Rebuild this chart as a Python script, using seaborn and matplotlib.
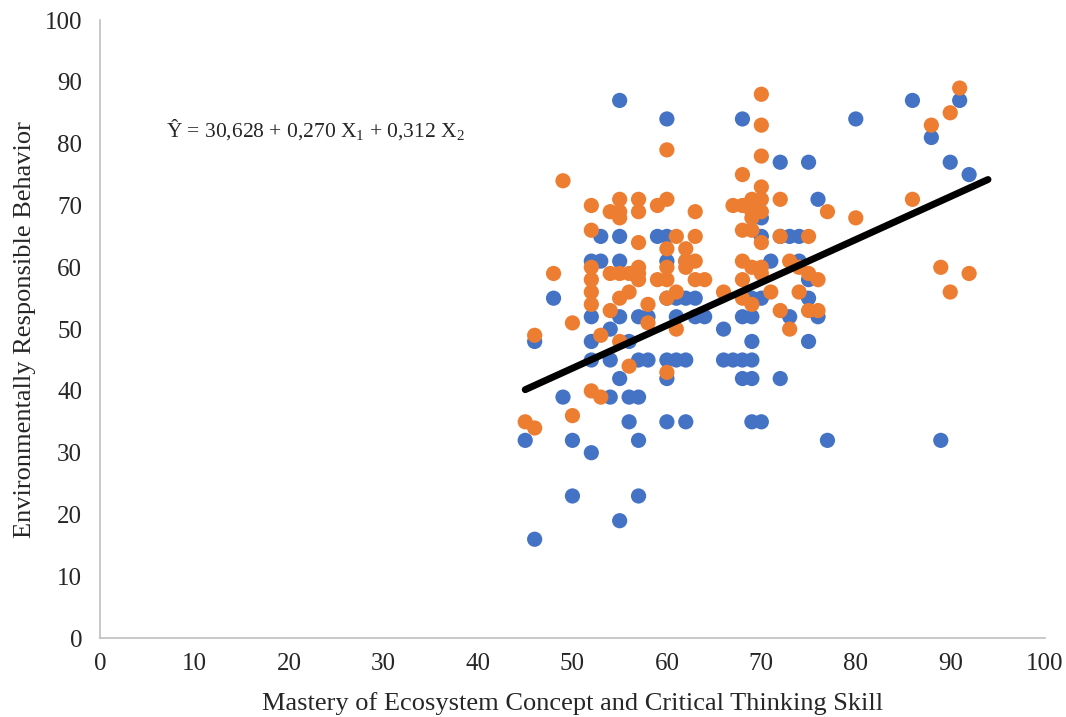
import pandas as pd
import matplotlib
matplotlib.use('Agg')
import matplotlib.pyplot as plt
import seaborn as sns

# X1: mastery of ecosystem concept (blue)
x1 = [45, 46, 46, 48, 49, 50, 50, 52, 52, 52, 52, 52, 53, 53, 54, 54, 54, 55, 55, 55,
      55, 55, 55, 56, 56, 56, 57, 57, 57, 57, 57, 58, 58, 59, 60, 60, 60, 60, 60, 60,
      60, 61, 61, 61, 62, 62, 62, 62, 63, 63, 64, 66, 66, 67, 68, 68, 68, 68, 69, 69,
      69, 69, 69, 69, 70, 70, 70, 70, 71, 72, 72, 72, 73, 73, 74, 74, 75, 75, 75, 75,
      76, 76, 77, 80, 86, 88, 89, 90, 91, 92]
y1 = [32, 16, 48, 55, 39, 23, 32, 30, 45, 48, 52, 61, 61, 65, 39, 45, 50, 19, 42, 52,
      61, 65, 87, 35, 39, 48, 23, 32, 39, 45, 52, 45, 52, 65, 35, 42, 45, 55, 61, 65,
      84, 45, 52, 55, 35, 45, 55, 61, 52, 55, 52, 45, 50, 45, 42, 45, 52, 84, 35, 42,
      45, 48, 52, 55, 35, 55, 65, 68, 61, 42, 65, 77, 52, 65, 61, 65, 48, 55, 58, 77,
      52, 71, 32, 84, 87, 81, 32, 77, 87, 75]

# X2: critical thinking skill (orange)
x2 = [45, 46, 46, 48, 49, 50, 50, 52, 52, 52, 52, 52, 52, 52, 53, 53, 54, 54, 54, 55,
      55, 55, 55, 55, 55, 56, 56, 56, 57, 57, 57, 57, 57, 57, 58, 58, 59, 59, 60, 60,
      60, 60, 60, 60, 60, 61, 61, 61, 62, 62, 62, 63, 63, 63, 63, 64, 66, 67, 68, 68,
      68, 68, 68, 68, 69, 69, 69, 69, 69, 69, 69, 70, 70, 70, 70, 70, 70, 70, 70, 70,
      71, 72, 72, 72, 73, 73, 74, 74, 75, 75, 75, 76, 76, 77, 80, 86, 88, 89, 90, 90,
      91, 92]
y2 = [35, 34, 49, 59, 74, 36, 51, 40, 54, 56, 58, 60, 66, 70, 39, 49, 53, 59, 69, 48,
      55, 59, 68, 69, 71, 44, 56, 59, 58, 59, 60, 64, 69, 71, 51, 54, 58, 70, 43, 55,
      58, 60, 63, 71, 79, 50, 56, 65, 60, 61, 63, 58, 61, 65, 69, 58, 56, 70, 55, 58,
      61, 66, 70, 75, 54, 60, 66, 68, 69, 70, 71, 59, 60, 64, 69, 71, 73, 78, 83, 88,
      56, 53, 65, 71, 50, 61, 56, 60, 53, 59, 65, 53, 58, 69, 68, 71, 83, 60, 56, 85,
      89, 59]

# trend line end points
trend_x = [45, 94]
trend_y = [40.2, 74.2]

equation = r"Ŷ = 30,628 + 0,270 X$_1$ + 0,312 X$_2$"

df = pd.concat([
    pd.DataFrame({'x': x1, 'y': y1, 'var': 'X1'}),
    pd.DataFrame({'x': x2, 'y': y2, 'var': 'X2'}),
], ignore_index=True)

sns.set_style('white')
plt.rcParams['font.family'] = ['Liberation Serif', 'DejaVu Serif']
plt.rcParams['mathtext.fontset'] = 'custom'
plt.rcParams['mathtext.rm'] = 'Liberation Serif'
plt.rcParams['mathtext.it'] = 'Liberation Serif'
plt.rcParams['mathtext.default'] = 'regular'

fig, ax = plt.subplots(figsize=(10.66, 7.17), dpi=100)
fig.subplots_adjust(left=0.094, right=0.980, bottom=0.110, top=0.972)

sns.scatterplot(data=df, x='x', y='y', hue='var',
                palette={'X1': '#4472C4', 'X2': '#ED7D31'},
                s=120, edgecolor='none', legend=False, ax=ax, zorder=2)
ax.plot(trend_x, trend_y, color='black', linewidth=5,
        solid_capstyle='round', zorder=3)

ax.text(7.0, 82.3, equation, fontsize=15.5, va='center')

ax.set_xlim(0, 100)
ax.set_ylim(0, 100)
ax.set_xticks(range(0, 101, 10))
ax.set_yticks(range(0, 101, 10))
ax.tick_params(labelsize=18, length=0)
ax.tick_params(axis='x', pad=11)
ax.tick_params(axis='y', pad=13)
ax.set_xlabel('Mastery of Ecosystem Concept and Critical Thinking Skill', fontsize=19, labelpad=12)
ax.set_ylabel('Environmentally Responsible Behavior', fontsize=19, labelpad=6)

for side in ['top', 'right']:
    ax.spines[side].set_visible(False)
for side in ['left', 'bottom']:
    ax.spines[side].set_color('#BFBFBF')
    ax.spines[side].set_linewidth(1.2)

plt.savefig('out.png', dpi=100)
